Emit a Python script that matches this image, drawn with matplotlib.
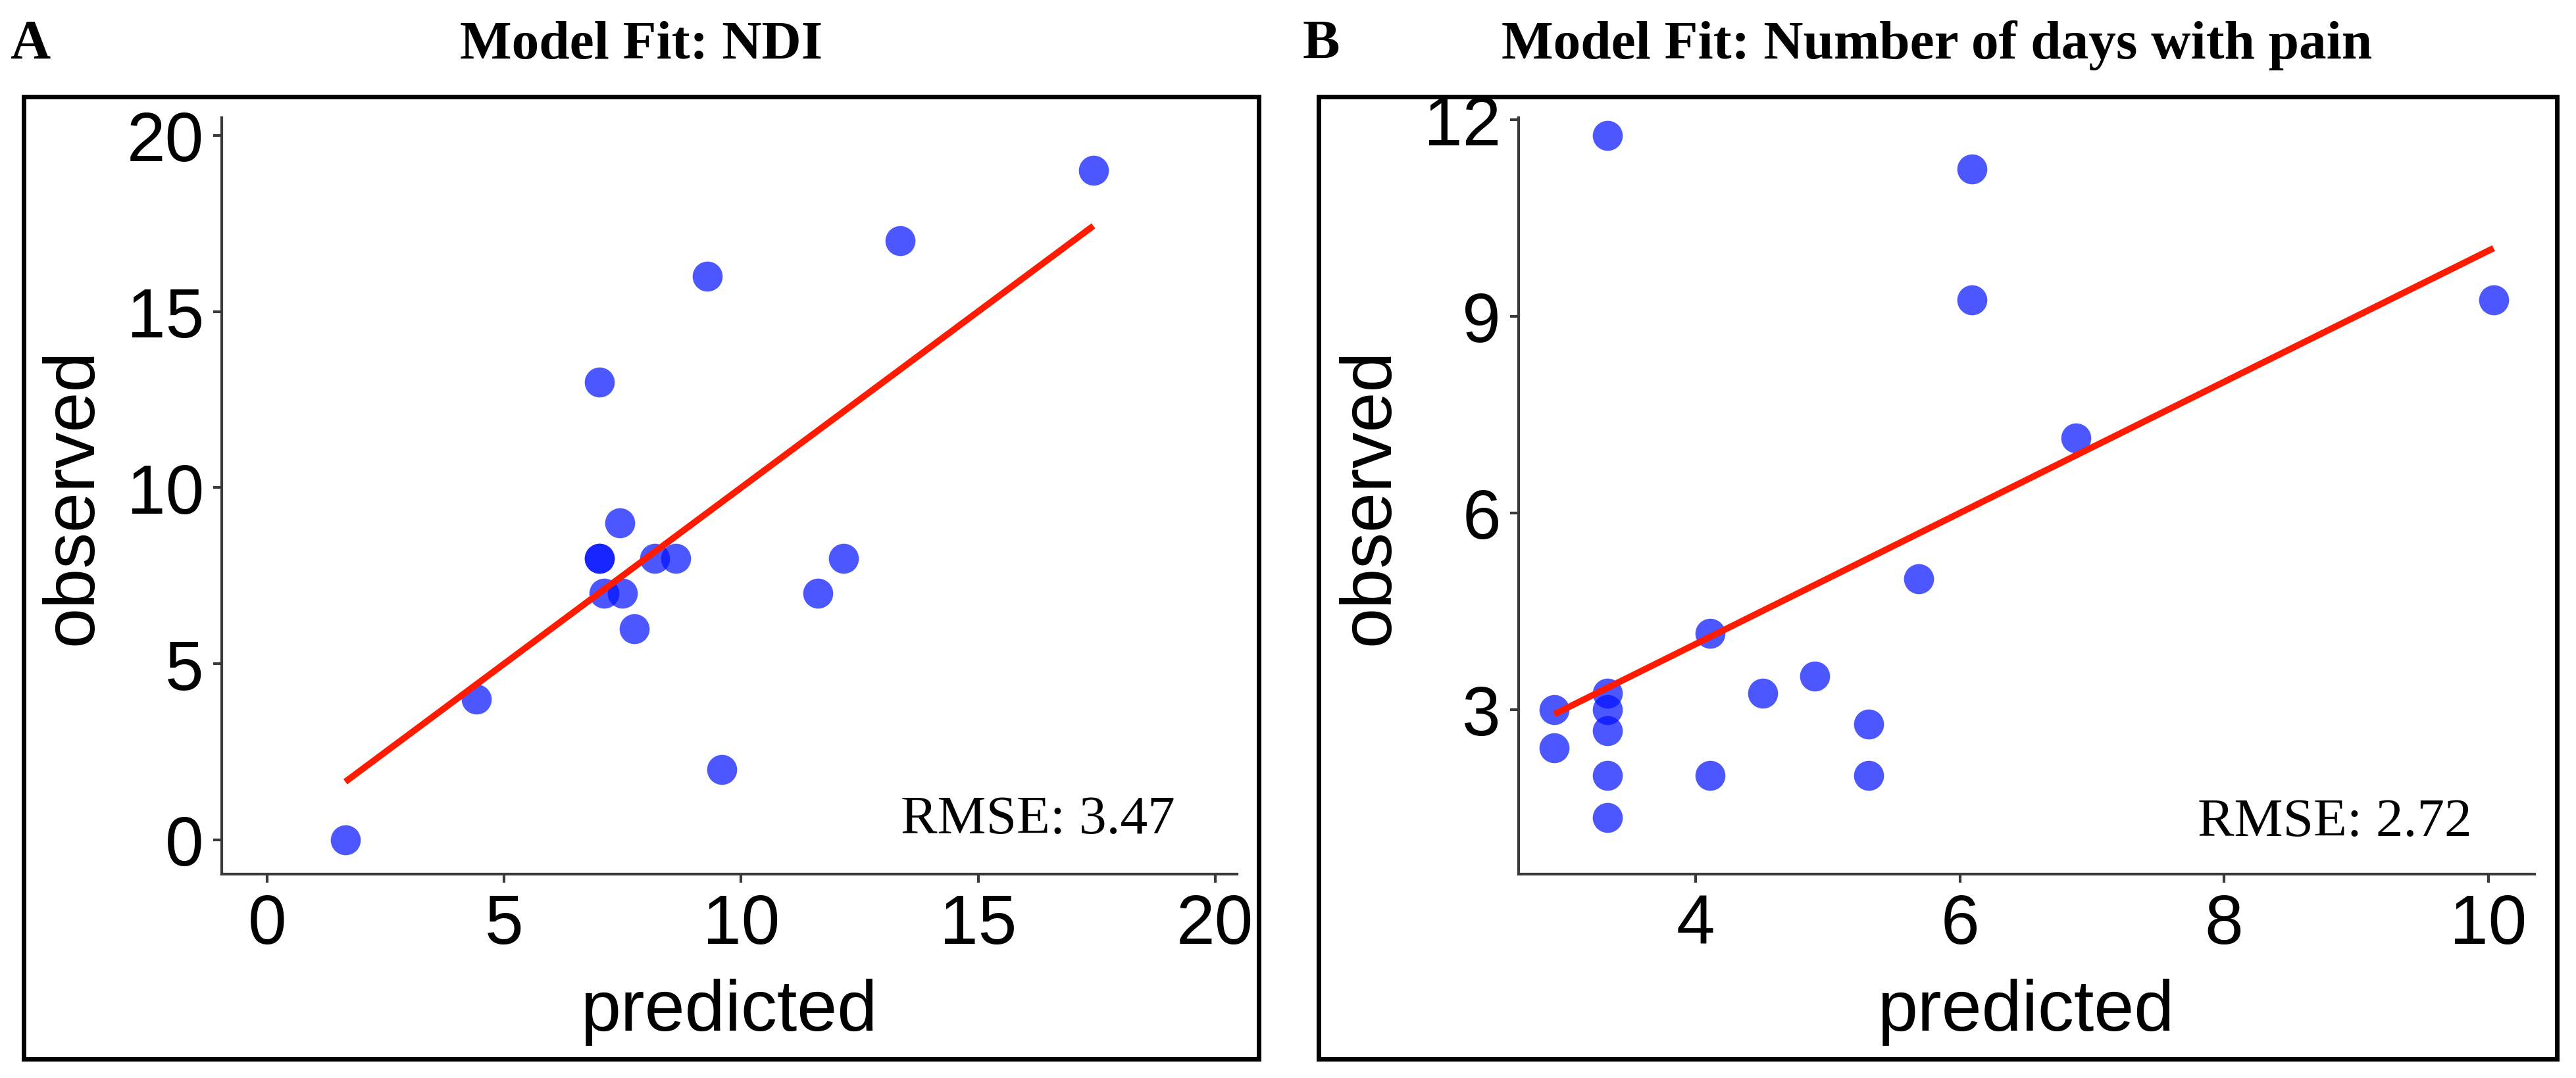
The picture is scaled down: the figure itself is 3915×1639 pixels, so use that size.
import matplotlib
matplotlib.use("Agg")
import matplotlib.pyplot as plt
from matplotlib.patches import Rectangle

# ---------------- data ----------------
ndi_pred = [1.65, 4.42, 7.01, 9.28, 13.36, 17.43, 7.44, 7.01, 7.01, 8.17, 8.62,
            12.16, 7.11, 7.49, 11.62, 7.75, 9.59]
ndi_obs = [0, 4, 13, 16, 17, 19, 9, 8, 8, 8, 8, 8, 7, 7, 7, 6, 2]
ndi_rmse = "RMSE: 3.47"
ndi_xticks = [0, 5, 10, 15, 20]
ndi_yticks = [0, 5, 10, 15, 20]

pain_pred = [3.33, 6.09, 6.09, 10.04, 6.88, 5.69, 4.11, 4.90, 4.51, 5.31, 5.31,
             4.11, 3.33, 3.33, 3.33, 3.33, 3.33, 2.93, 2.93]
pain_obs = [11.76, 11.25, 9.25, 9.25, 7.14, 5.0, 4.16, 3.51, 3.25, 2.78, 2.0,
            2.0, 2.0, 1.35, 2.68, 3.0, 3.25, 3.0, 2.42]
pain_rmse = "RMSE: 2.72"
pain_xticks = [4, 6, 8, 10]
pain_yticks = [3, 6, 9, 12]

titles = ["Model Fit: NDI", "Model Fit: Number of days with pain"]
letters = ["A", "B"]

# ---------------- figure ----------------
W, H = 3915, 1640
fig = plt.figure(figsize=(W / 100, H / 100), dpi=100)
fig.patch.set_facecolor("white")

SANS = ["Liberation Sans", "DejaVu Sans"]
SERIF = ["Liberation Serif", "DejaVu Serif"]
AXC = "#3a3a3a"


def px_axes(l, r, t, b):
    return fig.add_axes([l / W, 1 - b / H, (r - l) / W, (b - t) / H])


def style(ax, xlim, ylim, xt, yt):
    ax.set_xlim(*xlim)
    ax.set_ylim(*ylim)
    ax.set_xticks(xt)
    ax.set_yticks(yt)
    for s in ["top", "right"]:
        ax.spines[s].set_visible(False)
    for s in ["left", "bottom"]:
        ax.spines[s].set_color(AXC)
        ax.spines[s].set_linewidth(3.0)
    ax.tick_params(axis="both", length=9.5, width=3.0, color=AXC,
                   labelsize=76, labelcolor="black")
    ax.tick_params(axis="x", pad=11)
    ax.tick_params(axis="y", pad=10)
    for lab in ax.get_xticklabels() + ax.get_yticklabels():
        lab.set_family(SANS)
    ax.set_xlabel("predicted", family=SANS, fontsize=79, labelpad=22)
    ax.set_ylabel("observed", family=SANS, fontsize=79, labelpad=22)
    ax.patch.set_alpha(0)


def draw(ax, pred, obs):
    ax.scatter(pred, obs, s=1080, color="#0010ff", alpha=0.7, linewidths=0,
               zorder=2, clip_on=False)
    lo, hi = min(pred), max(pred)
    ax.plot([lo, hi], [lo, hi], color="#ff1a00", lw=7, solid_capstyle="butt",
            zorder=3)


# Panel A
axA = px_axes(337, 1880, 180, 1330)
draw(axA, ndi_pred, ndi_obs)
style(axA, (-0.957, 20.46), (-0.971, 20.50), ndi_xticks, ndi_yticks)

# Panel B
axB = px_axes(2308, 3852, 180, 1330)
draw(axB, pain_pred, pain_obs)
style(axB, (2.66, 10.35), (0.49, 12.03), pain_xticks, pain_yticks)

# RMSE annotations
fig.text(1786 / W, 1 - 1267 / H, ndi_rmse, family=SERIF, fontsize=60,
         ha="right", va="baseline")
fig.text(3757 / W, 1 - 1271 / H, pain_rmse, family=SERIF, fontsize=60,
         ha="right", va="baseline")

# Titles and panel letters
fig.text(975 / W, 1 - 89 / H, titles[0], family=SERIF, fontweight="bold",
         fontsize=60, ha="center", va="baseline")
fig.text(2944 / W, 1 - 89 / H, titles[1], family=SERIF, fontweight="bold",
         fontsize=60, ha="center", va="baseline")
fig.text(15 / W, 1 - 89 / H, letters[0], family=SERIF, fontweight="bold",
         fontsize=61, ha="left", va="baseline")
fig.text(1980 / W, 1 - 89 / H, letters[1], family=SERIF, fontweight="bold",
         fontsize=61, ha="left", va="baseline")

# Panel frames
for (l, r, t, b) in [(36, 1913, 148, 1611), (2004, 3886, 148, 1611)]:
    fig.patches.append(Rectangle((l / W, 1 - b / H), (r - l) / W, (b - t) / H,
                                 transform=fig.transFigure, fill=False,
                                 edgecolor="black", linewidth=5.0))

fig.savefig("out.png", dpi=100, facecolor="white")
